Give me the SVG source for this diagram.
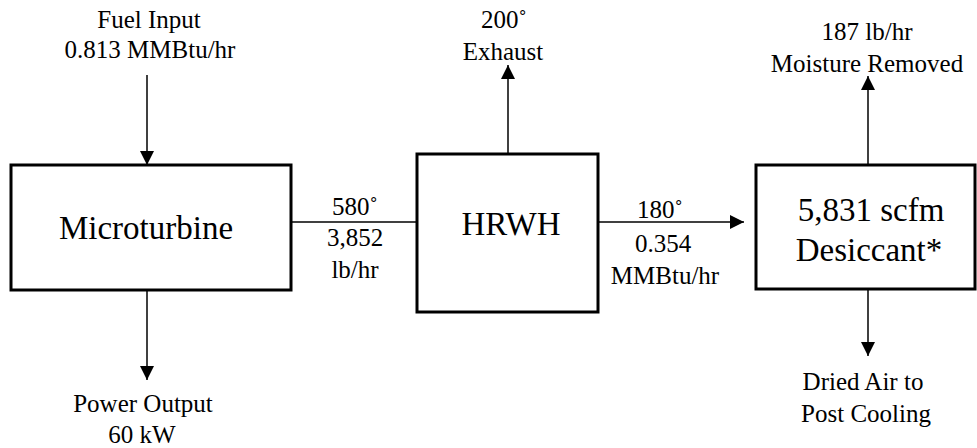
<svg xmlns="http://www.w3.org/2000/svg" width="977" height="448" viewBox="0 0 977 448">
<style>
.box{fill:#fff;stroke:#000;stroke-width:3}
.ln{stroke:#000;stroke-width:1.5;fill:none}
text{fill:#000;text-anchor:middle}
.t{font-size:25px}
.big{font-size:33px}
</style>
<defs>
<marker id="ah" markerWidth="14" markerHeight="14" refX="14" refY="7" orient="auto" markerUnits="userSpaceOnUse">
<path d="M0,0 L14,7 L0,14 Z" fill="#000"/>
</marker>
</defs>
<rect width="977" height="448" fill="#fff"/>
<g font-family="Liberation Serif, DejaVu Serif, serif">
<g id="connectors">
<line class="ln" x1="147" y1="75" x2="147" y2="165" marker-end="url(#ah)"/>
<line class="ln" x1="147" y1="290" x2="147" y2="380" marker-end="url(#ah)"/>
<line class="ln" x1="291" y1="222" x2="417" y2="222"/>
<line class="ln" x1="508" y1="154" x2="508" y2="65" marker-end="url(#ah)"/>
<line class="ln" x1="598" y1="222" x2="744" y2="222" marker-end="url(#ah)"/>
<line class="ln" x1="868" y1="165" x2="868" y2="76" marker-end="url(#ah)"/>
<line class="ln" x1="868" y1="289" x2="868" y2="356" marker-end="url(#ah)"/>
<text class="t" x="355" y="215">580˚</text>
<text class="t" x="355" y="246">3,852</text>
<text class="t" x="355" y="278">lb/hr</text>
<text class="t" x="660" y="218">180˚</text>
<text class="t" x="663" y="252">0.354</text>
<text class="t" x="665" y="284">MMBtu/hr</text>
</g>
<g id="fuel">
<text class="t" x="149" y="28">Fuel Input</text>
<text class="t" x="150" y="58">0.813 MMBtu/hr</text>
</g>
<g id="microturbine">
<rect class="box" x="11" y="165" width="280" height="125"/>
<text class="big" x="146" y="239">Microturbine</text>
</g>
<g id="power">
<text class="t" x="143" y="412">Power Output</text>
<text class="t" x="142" y="443">60 kW</text>
</g>
<g id="hrwh">
<rect class="box" x="417" y="154" width="181" height="158"/>
<text class="big" x="511" y="235">HRWH</text>
</g>
<g id="exhaust">
<text class="t" x="504" y="28">200˚</text>
<text class="t" x="503" y="60">Exhaust</text>
</g>
<g id="desiccant">
<rect class="box" x="756" y="165" width="219" height="124"/>
<text class="big" x="871" y="221">5,831 scfm</text>
<text class="big" x="869" y="261">Desiccant*</text>
</g>
<g id="moisture">
<text class="t" x="867" y="40">187 lb/hr</text>
<text class="t" x="867" y="72">Moisture Removed</text>
</g>
<g id="dried">
<text class="t" x="863" y="390">Dried Air to</text>
<text class="t" x="866" y="422">Post Cooling</text>
</g>
</g>
</svg>
